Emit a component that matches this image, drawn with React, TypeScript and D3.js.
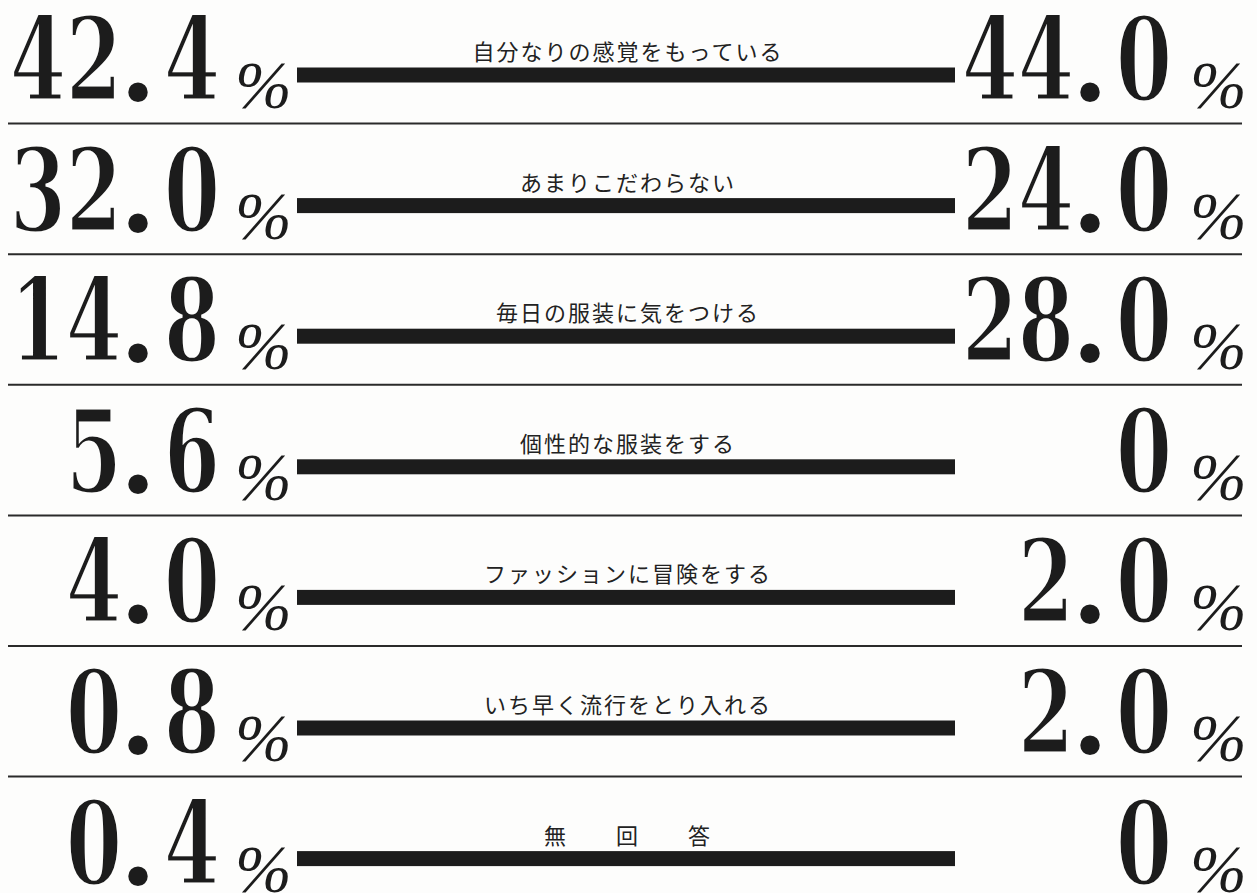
import React, { useRef, useEffect } from 'react';
import * as d3 from 'd3';

// survey answers (left column / right column, %)
const categories: string[] = [
    '自分なりの感覚をもっている',
    'あまりこだわらない',
    '毎日の服装に気をつける',
    '個性的な服装をする',
    'ファッションに冒険をする',
    'いち早く流行をとり入れる',
    '無　　回　　答',
];
const leftValues: number[] = [42.4, 32.0, 14.8, 5.6, 4.0, 0.8, 0.4];
const rightValues: number[] = [44.0, 24.0, 28.0, 0, 2.0, 2.0, 0];

const width = 1257;
const height = 893;
const rowPitch = 130.6;
const ink = '#1c1c1c';
const paper = '#fdfdfc';

const fmt = (v: number): string => (v === 0 ? '0' : v.toFixed(1));

interface Cell { ch: string; cx: number; }

// lay the characters out from the right edge, like set type
function cells(str: string, rightEdge: number): Cell[] {
    const out: Cell[] = [];
    let x = rightEdge;
    for (let i = str.length - 1; i >= 0; i--) {
        const ch = str[i];
        const adv = ch === '.' ? 42 : 56;
        out.unshift({ ch, cx: x - adv / 2 + (ch === '.' ? -5 : 0) });
        x -= adv;
    }
    return out;
}

function Chart() {
    const ref = useRef<SVGSVGElement | null>(null);

    useEffect(() => {
        if (!ref.current) return;
        const svg = d3.select(ref.current);
        svg.selectAll('*').remove();

        svg.append('rect').attr('width', width).attr('height', height).attr('fill', paper);

        const y = d3.scaleBand<string>()
            .domain(categories)
            .range([-7, -7 + rowPitch * categories.length])
            .padding(0);

        const barX = d3.scaleLinear().domain([0, 1]).range([297, 955]);

        const rows = svg.append('g')
            .selectAll('g')
            .data(categories.map((c, i) => ({ c, i, left: leftValues[i], right: rightValues[i] })))
            .join('g')
            .attr('transform', d => `translate(0,${y(d.c)})`);

        // separators under every row except the last
        rows.filter(d => d.i < categories.length - 1)
            .append('line')
            .attr('x1', 8).attr('x2', 1242)
            .attr('y1', rowPitch).attr('y2', rowPitch)
            .attr('stroke', '#2a2a2a')
            .attr('stroke-width', 2);

        // thick bar
        rows.append('rect')
            .attr('x', barX(0))
            .attr('width', barX(1) - barX(0))
            .attr('y', 82 - 7.5)
            .attr('height', 15)
            .attr('fill', ink);

        // label above the bar
        rows.append('text')
            .attr('x', 628)
            .attr('y', 67)
            .attr('text-anchor', 'middle')
            .attr('font-family', '"Noto Sans CJK JP", sans-serif')
            .attr('font-size', 22)
            .attr('letter-spacing', 2)
            .attr('fill', '#222')
            .text(d => d.c);

        const baseline = 107;

        const drawNumber = (sel: d3.Selection<SVGGElement, any, any, any>, key: 'left' | 'right', edge: number, pctX: number) => {
            sel.each(function (d: any) {
                const g = d3.select(this);
                g.selectAll(`text.num-${key}`)
                    .data(cells(fmt(d[key]), edge))
                    .join('text')
                    .attr('class', `num-${key}`)
                    .attr('transform', c => c.ch === '.'
                        ? `translate(${c.cx},${baseline})`
                        : `translate(${c.cx},${baseline}) scale(0.7,1)`)
                    .attr('text-anchor', 'middle')
                    // round full stop from Liberation, digits from DejaVu
                    .attr('font-family', c => (c.ch === '.' ? '"Liberation Serif", serif' : '"DejaVu Serif", serif'))
                    .attr('font-weight', 'bold')
                    .attr('font-size', c => (c.ch === '.' ? 120 : 116))
                    .attr('fill', ink)
                    // paper-coloured outline trims the bold strokes a little
                    .attr('stroke', c => (c.ch === '.' ? 'none' : paper))
                    .attr('stroke-width', 3)
                    .text(c => c.ch);
                g.append('text')
                    .attr('x', pctX)
                    .attr('y', baseline + 8)
                    .attr('font-family', '"Liberation Serif", serif')
                    .attr('font-style', 'italic')
                    .attr('font-size', 68)
                    .attr('fill', ink)
                    .text('%');
            });
        };

        drawNumber(rows as any, 'left', 220, 235);
        drawNumber(rows as any, 'right', 1172, 1190);
    }, []);

    return (
        <svg
            ref={ref}
            width={width}
            height={height}
            style={{ position: 'absolute', left: 0, top: 0, display: 'block' }}
        />
    );
}

export default function App() {
    return <Chart />;
}
